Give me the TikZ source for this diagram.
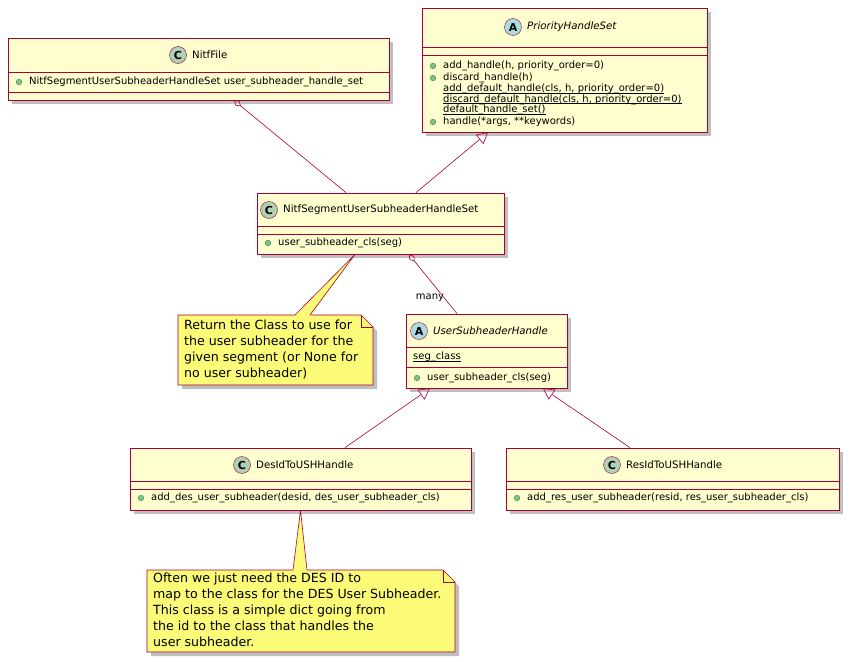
\documentclass[tikz,border=0pt]{standalone}
\usepackage{fontspec}
\setmainfont{DejaVu Sans}
\usetikzlibrary{arrows.meta,calc}
\definecolor{classbg}{HTML}{FEFECE}
\definecolor{classline}{HTML}{A80036}
\definecolor{notebg}{HTML}{FBFB77}
\definecolor{iconC}{HTML}{ADD1B2}
\definecolor{iconA}{HTML}{A9DCDF}
\definecolor{pubdot}{HTML}{84BE84}
\definecolor{publine}{HTML}{038048}
\tikzset{
  classbox/.style={draw=classline,fill=classbg,line width=0.8pt,rectangle,inner sep=0pt},
  shadowed/.style={fill=black!25,draw=none},
  member/.style={anchor=west,inner sep=0pt,font=\fontsize{10}{11}\selectfont},
  title/.style={inner sep=0pt,font=\fontsize{10.2}{12}\selectfont},
  notetext/.style={anchor=north west,align=left,inner sep=0pt,font=\fontsize{12.6}{16}\selectfont},
  link/.style={draw=classline,line width=0.6pt},
  aggr/.style={link,{Diamond[open,length=9,width=6]}-},
  inherit/.style={link,{Triangle[open,length=11,width=12]}-},
}
\newcommand{\icon}[3]{% position, colour, letter
  \node[circle,draw=classline,fill=#2,minimum size=17pt,inner sep=0pt,font=\fontsize{11}{11}\selectfont\bfseries] at #1 {#3};}
\newcommand{\pub}[1]{\fill[pubdot,draw=publine,line width=0.3pt] #1 circle (2.8);}
\newcommand{\stat}[1]{\setbox0\hbox{#1}\rlap{\rule[-1.4pt]{\wd0}{0.5pt}}\box0}
\begin{document}
\begin{tikzpicture}[x=1pt,y=-1pt]
  \useasboundingbox (0,0) rectangle (853,661);

  % shadows
  \foreach \a/\b/\c/\d in {8/38/389/100, 422/8/707/132, 257/193/504/254, 406/314/567/388,
                           130/448/471/510, 506/448/839/510}
    \fill[shadowed] (\a+4,\b+4) rectangle (\c+4,\d+4);

  % class boxes
  \node[classbox,minimum width=381,minimum height=62] (nitffile) at (198.5,69) {};
  \node[classbox,minimum width=285,minimum height=124] (prioset) at (564.5,70) {};
  \node[classbox,minimum width=247,minimum height=61] (segset) at (380.5,223.5) {};
  \node[classbox,minimum width=161,minimum height=74] (ushandle) at (486.5,351) {};
  \node[classbox,minimum width=341,minimum height=62] (deshandle) at (300.5,479) {};
  \node[classbox,minimum width=333,minimum height=62] (reshandle) at (672.5,479) {};

  % compartments
  \draw[classline,line width=0.8pt] (8,72) -- (389,72) (8,92) -- (389,92);
  \draw[classline,line width=0.8pt] (422,47) -- (707,47) (422,55) -- (707,55);
  \draw[classline,line width=0.8pt] (257,226) -- (504,226) (257,234) -- (504,234);
  \draw[classline,line width=0.8pt] (406,347) -- (567,347) (406,367) -- (567,367);
  \draw[classline,line width=0.8pt] (130,481) -- (471,481) (130,489) -- (471,489);
  \draw[classline,line width=0.8pt] (506,481) -- (839,481) (506,489) -- (839,489);

  % headers
  \icon{(178,55)}{iconC}{C}
  \node[title,anchor=west] at (192,55) {NitfFile};
  \icon{(513,27)}{iconA}{A}
  \node[title,anchor=west] at (527,27) {\itshape PriorityHandleSet};
  \icon{(269,210)}{iconC}{C}
  \node[title,anchor=west] at (283,210) {NitfSegmentUserSubheaderHandleSet};
  \icon{(419,331)}{iconA}{A}
  \node[title,anchor=west] at (433,331) {\itshape UserSubheaderHandle};
  \icon{(242,465)}{iconC}{C}
  \node[title,anchor=west] at (256,465) {DesIdToUSHHandle};
  \icon{(612,465)}{iconC}{C}
  \node[title,anchor=west] at (626,465) {ResIdToUSHHandle};

  % members
  \pub{(19,82)}
  \node[member] at (29,82) {NitfSegmentUserSubheaderHandleSet user\_subheader\_handle\_set};
  \pub{(433,66)}
  \node[member] at (443,66) {add\_handle(h, priority\_order=0)};
  \pub{(433,78)}
  \node[member] at (443,78) {discard\_handle(h)};
  \node[member] at (443,89) {\stat{add\_default\_handle(cls, h, priority\_order=0)}};
  \node[member] at (443,99.5) {\stat{discard\_default\_handle(cls, h, priority\_order=0)}};
  \node[member] at (443,110) {\stat{default\_handle\_set()}};
  \pub{(433,122)}
  \node[member] at (443,122) {handle(*args, **keywords)};
  \pub{(268,243)}
  \node[member] at (278,243) {user\_subheader\_cls(seg)};
  \node[member] at (413,357) {\stat{seg\_class}};
  \pub{(417,378)}
  \node[member] at (427,378) {user\_subheader\_cls(seg)};
  \pub{(141,498)}
  \node[member] at (151,498) {add\_des\_user\_subheader(desid, des\_user\_subheader\_cls)};
  \pub{(517,498)}
  \node[member] at (527,498) {add\_res\_user\_subheader(resid, res\_user\_subheader\_cls)};

  % relations
  \draw[aggr] ([xshift=35.5]nitffile.south) -- ([xshift=-34.5]segset.north);
  \draw[inherit] ([xshift=-76.5]prioset.south) -- ([xshift=35.5]segset.north);
  \draw[aggr] ([xshift=28.5]segset.south) -- ([xshift=-29.5]ushandle.north);
  \node[member,anchor=center] at (430,298) {many};
  \draw[inherit] ([xshift=-56.5]ushandle.south) -- ([xshift=44.5]deshandle.north);
  \draw[inherit] ([xshift=56.5]ushandle.south) -- ([xshift=-42.5]reshandle.north);

  % notes
  \fill[shadowed] (182,319) -- (365,319) -- (377,331) -- (377,389) -- (182,389) -- cycle;
  \draw[classline,fill=notebg,line width=0.6pt] (178,315) -- (361,315) -- (373,327) -- (373,385) -- (178,385) -- cycle;
  \draw[classline,line width=0.6pt] (361,315) -- (361,327) -- (373,327);
  \node[notetext] (note1) at (184,320) {Return the Class to use for\\the user subheader for the\\given segment (or None for\\no user subheader)};
  \fill[notebg] ([xshift=-25.5]segset.south) -- (295,316) -- (310,316) -- cycle;
  \draw[classline,line width=0.6pt] ([xshift=-25.5]segset.south) -- (295,315) ([xshift=-25.5]segset.south) -- (310,315);

  \fill[shadowed] (151,574) -- (447,574) -- (459,586) -- (459,656) -- (151,656) -- cycle;
  \draw[classline,fill=notebg,line width=0.6pt] (147,570) -- (443,570) -- (455,582) -- (455,652) -- (147,652) -- cycle;
  \draw[classline,line width=0.6pt] (443,570) -- (443,582) -- (455,582);
  \node[notetext] (note2) at (153,573) {Often we just need the DES ID to\\map to the class for the DES User Subheader.\\This class is a simple dict going from\\the id to the class that handles the\\user subheader.};
  \fill[notebg] (deshandle.south) -- (293,571) -- (307,571) -- cycle;
  \draw[classline,line width=0.6pt] (deshandle.south) -- (293,570) (deshandle.south) -- (307,570);
\end{tikzpicture}
\end{document}
